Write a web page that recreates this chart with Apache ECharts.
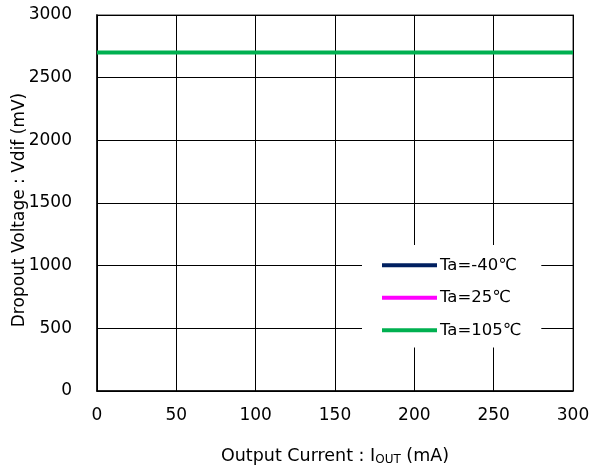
<!DOCTYPE html>
<html>
<head>
<meta charset="utf-8">
<script src="https://cdn.jsdelivr.net/npm/echarts@6/dist/echarts.min.js"></script>
<style>
html,body{margin:0;padding:0;background:#fff;}
#chart{width:593px;height:468px;}
</style>
</head>
<body>
<div id="chart"></div>
<script>
// Output current (mA)
const currents = [0, 50, 100, 150, 200, 250, 300];
// Dropout voltage (mV) per ambient temperature
const vdifM40 = [2700, 2700, 2700, 2700, 2700, 2700, 2700];
const vdif25 = [2700, 2700, 2700, 2700, 2700, 2700, 2700];
const vdif105 = [2700, 2700, 2700, 2700, 2700, 2700, 2700];
const seriesNames = ['Ta=-40℃', 'Ta=25℃', 'Ta=105℃'];
const seriesColors = ['#002060', '#FF00FF', '#00B050'];
const lineWidths = [3, 3, 4];

const font = '"DejaVu Sans", "Noto Sans CJK JP", sans-serif';
const chart = echarts.init(document.getElementById('chart'));

const pair = (ys) => currents.map((x, i) => [x, ys[i]]);
const dataSets = [vdifM40, vdif25, vdif105];

chart.setOption({
  animation: false,
  backgroundColor: '#fff',
  textStyle: { fontFamily: font },
  grid: {
    left: 97, right: 20, top: 15, bottom: 77,
    outerBoundsMode: 'none',
    show: true, borderColor: '#999', borderWidth: 2
  },
  legend: {
    orient: 'vertical',
    left: 362, top: 245,
    backgroundColor: '#fff',
    padding: [12, 20, 9, 20],
    itemWidth: 55, itemHeight: 4, itemGap: 16,
    icon: 'rect',
    textStyle: { fontSize: 16.5, color: '#000', fontFamily: font, padding: [0, 0, 0, -2] },
    data: seriesNames
  },
  xAxis: {
    type: 'value', min: 0, max: 300, interval: 50,
    name: 'Output Current : I{sub|OUT} (mA)',
    nameLocation: 'middle', nameGap: 56,
    nameMoveOverlap: false,
    nameTextStyle: {
      fontSize: 17.5, color: '#000', fontFamily: font,
      rich: { sub: { fontSize: 12, color: '#000', padding: [7, 0, 0, 0], fontFamily: font } }
    },
    axisLine: { show: true, lineStyle: { color: '#000', width: 1.5 } },
    axisTick: { show: false },
    axisLabel: { fontSize: 17, color: '#000', margin: 16 },
    splitLine: { show: true, lineStyle: { color: '#000', width: 1 } }
  },
  yAxis: {
    type: 'value', min: 0, max: 3000, interval: 500,
    name: 'Dropout Voltage : Vdif (mV)',
    nameLocation: 'middle', nameGap: 69,
    nameMoveOverlap: false,
    nameTextStyle: { fontSize: 17, color: '#000', fontFamily: font, padding: [0, 14, 0, 0] },
    axisLine: { show: true, lineStyle: { color: '#000', width: 1.5 } },
    axisTick: { show: false },
    axisLabel: { fontSize: 17, color: '#000', margin: 25, formatter: (v) => String(v) },
    splitLine: { show: true, lineStyle: { color: '#000', width: 1 } }
  },
  series: dataSets.map((ys, i) => ({
    name: seriesNames[i],
    type: 'line',
    data: pair(ys),
    showSymbol: false,
    symbol: 'none',
    lineStyle: { color: seriesColors[i], width: lineWidths[i] },
    itemStyle: { color: seriesColors[i] },
    z: 3 + i
  }))
});
</script>
</body>
</html>
